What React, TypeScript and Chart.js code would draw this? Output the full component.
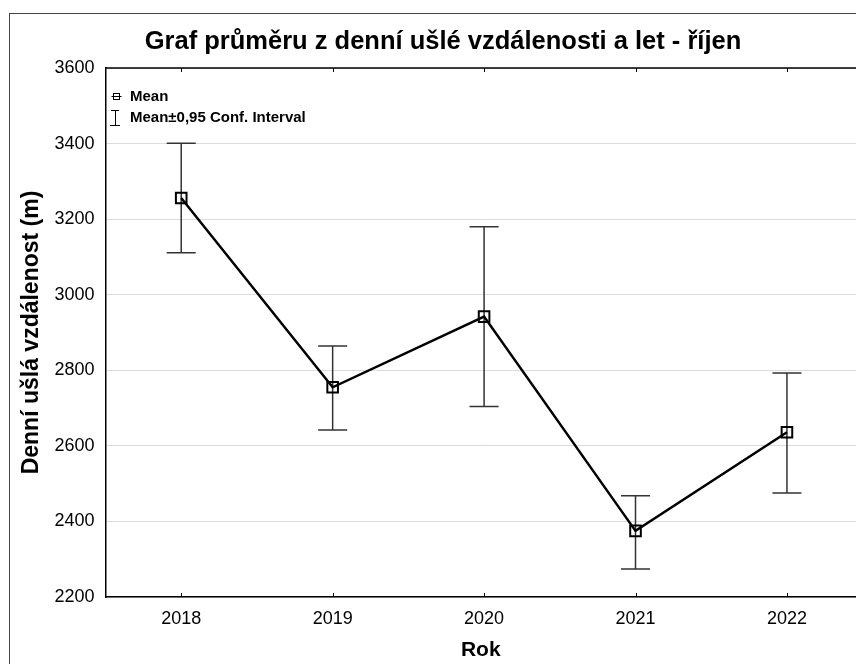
import { useEffect, useRef } from "react";
import { Chart, registerables } from "chart.js";

Chart.register(...registerables);

const titleText = "Graf průměru z denní ušlé vzdálenosti a let - říjen";
const xAxisTitle = "Rok";
const yAxisTitle = "Denní ušlá vzdálenost (m)";
const legendMean = "Mean";
const legendCI = "Mean±0,95 Conf. Interval";

const years = ["2018", "2019", "2020", "2021", "2022"];
const means = [3256, 2755, 2942, 2375, 2636];
const upper = [3401, 2864, 3180, 2468, 2793];
const lower = [3111, 2642, 2704, 2274, 2475];
const yMin = 2200;
const yMax = 3600;
const yStep = 200;

const FONT = "'Liberation Sans', Arial, Helvetica, sans-serif";

const overlay = {
  id: "overlay",
  beforeDatasetsDraw(chart: any) {
    const { ctx, scales } = chart;
    const xs = scales.x;
    const ys = scales.y;
    ctx.save();
    ctx.strokeStyle = "#333";
    ctx.lineWidth = 1.5;
    years.forEach((_, i) => {
      const px = xs.getPixelForValue(i);
      const pu = ys.getPixelForValue(upper[i]);
      const pl = ys.getPixelForValue(lower[i]);
      ctx.beginPath();
      ctx.moveTo(px, pu);
      ctx.lineTo(px, pl);
      ctx.moveTo(px - 14.5, pu);
      ctx.lineTo(px + 14.5, pu);
      ctx.moveTo(px - 14.5, pl);
      ctx.lineTo(px + 14.5, pl);
      ctx.stroke();
    });
    ctx.restore();
  },
  afterDraw(chart: any) {
    const { ctx, scales, chartArea } = chart;
    const xs = scales.x;
    ctx.save();
    // outer frame
    ctx.strokeStyle = "#444";
    ctx.lineWidth = 1;
    ctx.strokeRect(9.5, 13.5, 1000, 1000);
    // top border of plot
    ctx.strokeStyle = "#000";
    ctx.lineWidth = 1.5;
    ctx.beginPath();
    ctx.moveTo(chartArea.left, chartArea.top);
    ctx.lineTo(chartArea.right + 10, chartArea.top);
    ctx.stroke();
    // inward tick marks top & bottom
    ctx.lineWidth = 1;
    years.forEach((_, i) => {
      const px = Math.round(xs.getPixelForValue(i)) + 0.5;
      ctx.beginPath();
      ctx.moveTo(px, chartArea.top);
      ctx.lineTo(px, chartArea.top + 4);
      ctx.moveTo(px, chartArea.bottom);
      ctx.lineTo(px, chartArea.bottom - 4);
      ctx.stroke();
    });
    // title
    ctx.fillStyle = "#000";
    ctx.font = `bold 25.5px ${FONT}`;
    ctx.textAlign = "center";
    ctx.textBaseline = "middle";
    ctx.fillText(titleText, 443, 42);
    // legend
    ctx.font = `bold 15px ${FONT}`;
    ctx.textAlign = "left";
    ctx.fillText(legendMean, 130, 97);
    ctx.fillText(legendCI, 130, 118);
    ctx.strokeStyle = "#000";
    ctx.lineWidth = 1;
    ctx.beginPath();
    ctx.moveTo(111.5, 96.5);
    ctx.lineTo(121.5, 96.5);
    ctx.stroke();
    ctx.strokeRect(113.5, 93.5, 6, 6);
    ctx.beginPath();
    ctx.moveTo(115.5, 110);
    ctx.lineTo(115.5, 125);
    ctx.moveTo(111, 110.5);
    ctx.lineTo(119, 110.5);
    ctx.moveTo(110, 125.5);
    ctx.lineTo(120, 125.5);
    ctx.stroke();
    ctx.restore();
  },
};

export default function App() {
  const ref = useRef<HTMLCanvasElement>(null);
  useEffect(() => {
    if (!ref.current) return;
    const chart = new Chart(ref.current, {
      type: "line",
      data: {
        datasets: [
          {
            label: legendMean,
            data: means.map((v, i) => ({ x: i, y: v })),
            borderColor: "#000",
            borderWidth: 2.5,
            pointStyle: "rect",
            pointRadius: 7.5,
            pointBorderWidth: 2,
            pointBorderColor: "#000",
            pointBackgroundColor: "rgba(0,0,0,0)",
            tension: 0,
          },
        ],
      },
      options: {
        responsive: false,
        animation: false,
        layout: { autoPadding: false, padding: { top: 68, left: 0, right: 0, bottom: 0 } },
        plugins: {
          legend: { display: false },
          tooltip: { enabled: false },
          title: { display: false },
        },
        scales: {
          x: {
            type: "linear",
            min: -0.5,
            max: 4.456,
            afterFit: (s: any) => {
              s.height = 67;
              s.paddingLeft = 0;
              s.paddingRight = 0;
            },
            afterBuildTicks: (s: any) => {
              s.ticks = years.map((_, i) => ({ value: i }));
            },
            ticks: {
              color: "#000",
              font: { family: FONT, size: 18 },
              padding: 11,
              maxRotation: 0,
              autoSkip: false,
              callback: (v: any) => years[v as number],
            },
            grid: { display: false, drawTicks: false },
            border: { display: true, color: "#000", width: 1.5 },
            title: {
              display: true,
              text: xAxisTitle,
              color: "#000",
              font: { family: FONT, size: 21, weight: "bold" },
              padding: { top: 0, bottom: 1.4 },
            },
          },
          y: {
            min: yMin,
            max: yMax,
            afterFit: (s: any) => {
              s.width = 105.5;
              s.paddingTop = 0;
              s.paddingBottom = 0;
            },
            ticks: {
              stepSize: yStep,
              color: "#000",
              font: { family: FONT, size: 18 },
              padding: 11,
              callback: (v: any) => String(v),
            },
            grid: { color: "#dcdcdc", lineWidth: 1, drawTicks: false },
            border: { display: true, color: "#000", width: 1.5 },
            title: {
              display: true,
              text: yAxisTitle,
              color: "#000",
              font: { family: FONT, size: 23, weight: "bold" },
              padding: { top: 18, bottom: 0 },
            },
          },
        },
      },
      plugins: [overlay],
    });
    return () => chart.destroy();
  }, []);
  return (
    <div style={{ position: "fixed", left: 0, top: 0, width: 856, height: 664, background: "#fff" }}>
      <canvas ref={ref} width={856} height={664} style={{ display: "block" }} />
    </div>
  );
}
